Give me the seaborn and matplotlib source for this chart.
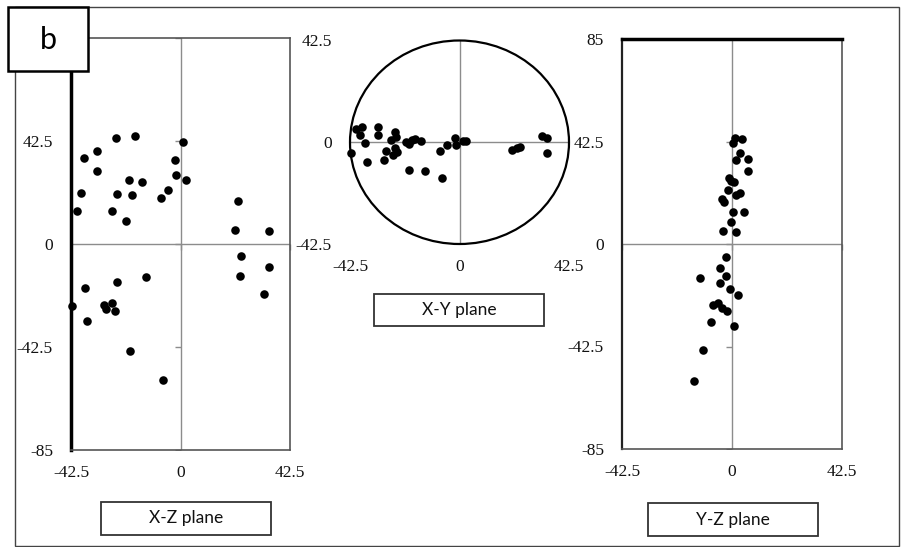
import numpy as np
import pandas as pd
import matplotlib
matplotlib.use("Agg")
import matplotlib.pyplot as plt
import matplotlib.patches as mpatches
import seaborn as sns

# --- data (three projections) ---
xz_x = [-24.9, -17.8, 1.1, -37.5, -32.5, -32.5, -2.1, -1.7, 2.1, -20.1, -14.9, -38.7,
        -24.5, -18.7, -5.0, -7.4, -40.0, -26.7, -21.1, 22.3, 21.1, 34.3, 23.4, 34.3,
        22.9, 32.4, -13.5, -24.5, -37.1, -42.1, -29.7, -28.9, -26.7, -25.4, -36.2,
        -19.6, -6.9]
xz_z = [43.6, 44.4, 41.9, 35.5, 38.3, 30.2, 34.8, 28.3, 26.6, 26.6, 25.7, 21.1,
        20.7, 20.3, 22.2, 19.1, 13.7, 13.7, 9.6, 17.7, 5.6, 5.2, -5.0, -9.6,
        -13.1, -20.6, -13.6, -15.6, -18.1, -25.7, -25.0, -26.8, -24.2, -27.8, -31.6,
        -44.0, -56.0]

xy_x = [-40.0, -37.8, -38.8, -36.5, -42.0, -35.9, -31.8, -31.8, -29.4, -28.4, -26.5,
        -24.9, -24.5, -26.0, -24.2, -25.0, -20.6, -19.7, -18.4, -17.1, -14.8, -19.7,
        -13.5, -6.7, -7.4, -4.8, -1.9, -1.4, 1.4, 2.4, 20.5, 22.2, 23.3, 32.1, 34.1, 34.1]
xy_y = [5.6, 6.3, 3.2, -0.4, -4.5, -8.1, 6.3, 3.2, -7.3, -3.5, 1.1,
        4.2, 2.1, -5.3, -3.9, -2.5, 0.0, -0.7, 1.1, 1.4, 0.4, -11.5,
        -12.1, -14.9, -3.8, -1.1, 1.8, -1.1, 0.4, 0.4, -3.1, -2.5, -2.0, 2.8, 1.8, -4.5]

yz_y = [1.0, 3.8, 0.3, 2.9, 1.4, 6.1, 6.1, -1.0, -0.3, 0.6, -1.5, 2.9, 1.4, -4.0,
        -2.9, 0.5, 4.6, -0.2, -3.4, 1.4, -2.5, -4.8, -12.3, -2.5, -4.5, -0.6, 2.4,
        -7.2, -5.5, -4.0, -2.0, -8.1, 0.9, -11.3, -14.7]
yz_z = [43.8, 43.4, 41.7, 37.7, 34.9, 35.3, 30.1, 27.4, 26.3, 25.6, 22.2, 21.1, 20.2,
        18.5, 17.5, 13.3, 13.3, 9.3, 5.3, 4.9, -5.3, -9.9, -14.1, -13.4, -16.1, -18.6,
        -21.1, -25.1, -24.4, -26.5, -27.9, -32.2, -34.2, -43.8, -56.6]

xticks = [-42.5, 0, 42.5]
xtick_labels = ["-42.5", "0", "42.5"]
zticks = [-85, -42.5, 0, 42.5, 85]
ztick_labels = ["-85", "-42.5", "0", "42.5", "85"]
# on the X-Z panel the top label sits under the "b" box, so it is left blank
ztick_labels_xz = ["-85", "-42.5", "0", "42.5", ""]
panel_names = ["X-Z plane", "X-Y plane", "Y-Z plane"]
panel_letter = "b"

df_xz = pd.DataFrame({"x": xz_x, "z": xz_z})
df_xy = pd.DataFrame({"x": xy_x, "y": xy_y})
df_yz = pd.DataFrame({"y": yz_y, "z": yz_z})

sns.set_style("white")
plt.rcParams["font.family"] = ["Liberation Serif", "DejaVu Serif"]

W, H = 903, 547
fig = plt.figure(figsize=(W / 100, H / 100), dpi=100)


def fx(px):
    return px / W


def fy(py):
    return 1 - py / H


tick_font = dict(family="Liberation Serif", size=12.5, color="#111111")
zero_col = "#8c8c8c"
frame_col = "#555555"
dot_size = 38


def style_ticks(ax, yt, ylab):
    ax.set_xticks(xticks)
    ax.set_xticklabels(xtick_labels, fontdict=tick_font)
    ax.set_yticks(yt)
    ax.set_yticklabels(ylab, fontdict=tick_font)
    ax.tick_params(axis="x", length=0, pad=11)
    ax.tick_params(axis="y", length=0, pad=13)
    ax.set_xlabel("")
    ax.set_ylabel("")


def zero_axes(ax, yt):
    ax.axvline(0, color=zero_col, lw=1.0, zorder=1)
    ax.axhline(0, color=zero_col, lw=1.0, zorder=1)
    # small tick marks on the zero lines
    ax.plot(np.zeros(len(yt)), yt, ls="", marker=0, ms=4, mew=1.0,
            color=zero_col, zorder=1)
    ax.plot(xticks, np.zeros(len(xticks)), ls="", marker=3, ms=4, mew=1.0,
            color=zero_col, zorder=1, clip_on=False)


# Left panel: X-Z plane
ax1 = fig.add_axes([fx(71), fy(450), fx(219), 412 / H])
sns.scatterplot(data=df_xz, x="x", y="z", ax=ax1, color="black", s=dot_size,
                linewidth=0, zorder=4, clip_on=False)
ax1.set_xlim(-42.5, 42.5)
ax1.set_ylim(-85, 85)
zero_axes(ax1, zticks)
style_ticks(ax1, zticks, ztick_labels_xz)
for side in ["top", "right", "bottom"]:
    ax1.spines[side].set_color(frame_col)
    ax1.spines[side].set_linewidth(1.2)
ax1.spines["left"].set_color("black")
ax1.spines["left"].set_linewidth(2.5)

# Middle panel: X-Y plane
ax2 = fig.add_axes([fx(350), fy(244), fx(219), 203.5 / H])
sns.scatterplot(data=df_xy, x="x", y="y", ax=ax2, color="black", s=dot_size,
                linewidth=0, zorder=4, clip_on=False)
ax2.set_xlim(-42.5, 42.5)
ax2.set_ylim(-42.5, 42.5)
ax2.axvline(0, color=zero_col, lw=1.0, zorder=1)
ax2.axhline(0, color=zero_col, lw=1.0, zorder=1)
ax2.add_patch(mpatches.Circle((0, 0), 42.5, fill=False, ec="black", lw=1.6,
                              clip_on=False, zorder=3))
style_ticks(ax2, xticks, xtick_labels)
for sp in ax2.spines.values():
    sp.set_visible(False)

# Right panel: Y-Z plane
ax3 = fig.add_axes([fx(622), fy(449), fx(220), 410 / H])
sns.scatterplot(data=df_yz, x="y", y="z", ax=ax3, color="black", s=dot_size,
                linewidth=0, zorder=4, clip_on=False)
ax3.set_xlim(-42.5, 42.5)
ax3.set_ylim(-85, 85)
zero_axes(ax3, zticks)
style_ticks(ax3, zticks, ztick_labels)
for side in ["right", "bottom"]:
    ax3.spines[side].set_color(frame_col)
    ax3.spines[side].set_linewidth(1.2)
ax3.spines["left"].set_color("#222222")
ax3.spines["left"].set_linewidth(1.6)
ax3.spines["top"].set_color("black")
ax3.spines["top"].set_linewidth(2.5)

# outer frame of the picture
fig.patches.append(mpatches.Rectangle((fx(15), fy(546)), fx(884), 539 / H,
                                      transform=fig.transFigure, fill=False,
                                      ec="#444444", lw=1.0, zorder=0))

# caption boxes under each panel
boxes = [(101, 502, 170, 33), (374, 294, 170, 32), (648, 503, 170, 33)]
for (bx, by, bw, bh), name in zip(boxes, panel_names):
    fig.patches.append(mpatches.Rectangle((fx(bx), fy(by + bh)), fx(bw), bh / H,
                                          transform=fig.transFigure, fc="white",
                                          ec="#333333", lw=1.3, zorder=5))
    fig.text(fx(bx + bw / 2), fy(by + bh / 2), name, ha="center", va="center",
             family=["Lato", "DejaVu Sans"], fontsize=12.5, color="#111111", zorder=6)

# panel letter
fig.patches.append(mpatches.Rectangle((fx(8), fy(71)), fx(80), 64 / H,
                                      transform=fig.transFigure, fc="white",
                                      ec="black", lw=1.8, zorder=5))
fig.text(fx(48), fy(40), panel_letter, ha="center", va="center",
         family=["Lato", "DejaVu Sans"], fontsize=22, color="black", zorder=6)

fig.savefig("out.png", dpi=100)
